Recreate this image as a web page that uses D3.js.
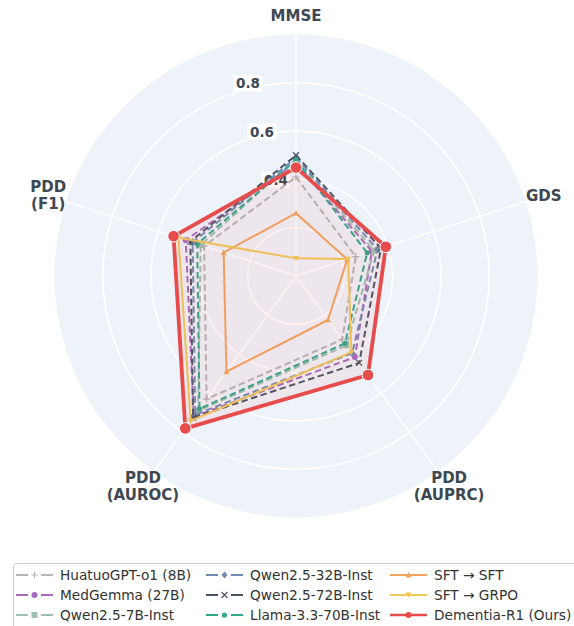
<!DOCTYPE html>
<html><head><meta charset="utf-8">
<script src="https://cdn.jsdelivr.net/npm/d3@7"></script>
<style>body{margin:0;background:#fff}svg{display:block}</style>
</head><body>
<svg id="chart" width="574" height="626"></svg>
<script>
const axesLabels = [["MMSE"], ["GDS"], ["PDD", "(AUPRC)"], ["PDD", "(AUROC)"], ["PDD", "(F1)"]];
const gridTicks = [0.2, 0.4, 0.6, 0.8];
const tickLabels = ["0.4", "0.6", "0.8"];
const seriesNames = ["HuatuoGPT-o1 (8B)", "MedGemma (27B)", "Qwen2.5-7B-Inst", "Qwen2.5-32B-Inst", "Qwen2.5-72B-Inst", "Llama-3.3-70B-Inst", "SFT \u2192 SFT", "SFT \u2192 GRPO", "Dementia-R1 (Ours)"];
const huatuo   = [0.41, 0.26, 0.325, 0.63, 0.40];
const medgemma = [0.47, 0.33, 0.415, 0.72, 0.48];
const qwen7    = [0.485, 0.34, 0.355, 0.69, 0.415];
const qwen32   = [0.49, 0.355, 0.395, 0.71, 0.45];
const qwen72   = [0.50, 0.37, 0.445, 0.725, 0.46];
const llama    = [0.48, 0.31, 0.345, 0.68, 0.43];
const sftSft   = [0.26, 0.223, 0.225, 0.49, 0.315];
const sftGrpo  = [0.073, 0.227, 0.39, 0.742, 0.512];
const dementia = [0.449, 0.391, 0.507, 0.78, 0.533];
const seriesValues = [huatuo, medgemma, qwen7, qwen32, qwen72, llama, sftSft, sftGrpo, dementia];

const styles = [
  {color:"#b5b5b5", dash:"6.5,3.5", w:2, sym:"plus", ms:3.5},
  {color:"#a66bbe", dash:"6.5,3.5", w:2, sym:"circle", ms:3},
  {color:"#9fc0b1", dash:"6.5,3.5", w:2, sym:"square", ms:3},
  {color:"#6f8db3", dash:"6.5,3.5", w:2, sym:"diamond", ms:3.5},
  {color:"#4b5563", dash:"6.5,3.5", w:2, sym:"x", ms:3},
  {color:"#2fa88c", dash:"6.5,3.5", w:2, sym:"circle", ms:2.6},
  {color:"#f2a55e", dash:null, w:2, sym:"tri", ms:3},
  {color:"#f0c95a", dash:null, w:2, sym:"tridown", ms:3},
  {color:"#e74c4c", dash:null, w:3.8, sym:"circle", ms:5.8}
];

const svg = d3.select("#chart");
const cx = 296, cy = 276, R = 241.5;
const n = axesLabels.length;
const r = d3.scaleLinear().domain([0, 1]).range([0, R]);
const ang = d3.scaleLinear().domain([0, n]).range([0, 2 * Math.PI]);
const textCol = "#3d4852";
const g = svg.append("g").attr("transform", `translate(${cx},${cy})`);

g.append("circle").attr("r", r(1)).attr("fill", "#eef3fa");
g.selectAll("circle.grid").data(gridTicks).enter().append("circle")
  .attr("class","grid").attr("r", d => r(d)).attr("fill","none").attr("stroke","#fff").attr("stroke-width",1.5);
g.selectAll("line.spoke").data(d3.range(n)).enter().append("line")
  .attr("x1",0).attr("y1",0)
  .attr("x2", i => r(1) * Math.sin(ang(i))).attr("y2", i => -r(1) * Math.cos(ang(i)))
  .attr("stroke","#fff").attr("stroke-width",1.5);

tickLabels.forEach(t => {
  const v = +t, rr = r(v);
  const x = -(0.29 * rr - 8), y = -rr + 0.5;
  const tg = g.append("g");
  const txt = tg.append("text").attr("x", x).attr("y", y).attr("text-anchor","middle")
    .attr("dominant-baseline","central").attr("font-family","DejaVu Sans").attr("font-weight","bold")
    .attr("font-size",13.5).attr("fill",textCol).text(t);
  const bb = txt.node().getBBox();
  tg.insert("rect","text").attr("x", bb.x - 2.5).attr("y", bb.y).attr("width", bb.width + 5).attr("height", bb.height).attr("fill","#fff");
});

axesLabels.forEach((lines, i) => {
  const a = ang(i), rr = R + 19;
  const x = rr * Math.sin(a), y = -rr * Math.cos(a);
  const lh = 16.5;
  const t = g.append("text").attr("text-anchor","middle").attr("font-family","DejaVu Sans")
    .attr("font-weight","bold").attr("font-size",15).attr("fill",textCol);
  lines.forEach((l, k) => {
    t.append("tspan").attr("x", x).attr("y", y + (k - (lines.length - 1) / 2) * lh).attr("dominant-baseline","central").text(l);
  });
});

function symPath(sym, s) {
  if (sym === "plus") return `M${-s},0H${s}M0,${-s}V${s}`;
  if (sym === "x") return `M${-s},${-s}L${s},${s}M${-s},${s}L${s},${-s}`;
  if (sym === "circle") return d3.symbol(d3.symbolCircle, Math.PI * s * s)();
  if (sym === "square") return d3.symbol(d3.symbolSquare, 4 * s * s)();
  if (sym === "diamond") return `M0,${-s*1.2}L${s},0L0,${s*1.2}L${-s},0Z`;
  if (sym === "tri") return `M0,${-s}L${s},${s*0.8}L${-s},${s*0.8}Z`;
  if (sym === "tridown") return `M0,${s}L${s},${-s*0.8}L${-s},${-s*0.8}Z`;
}
function drawMarker(sel, st, x, y) {
  const open = st.sym === "plus" || st.sym === "x";
  const p = sel.append("path").attr("d", symPath(st.sym, st.ms)).attr("transform", `translate(${x},${y})`);
  if (open) p.attr("fill","none").attr("stroke", st.color).attr("stroke-width",1.2);
  else p.attr("fill", st.color).attr("stroke", st.sym === "circle" && st.ms > 5 ? "#fff" : "none").attr("stroke-width", 1);
}

const radial = d3.lineRadial().angle((d, i) => ang(i)).radius(d => r(d)).curve(d3.curveLinearClosed);
const dataG = g.append("g");
seriesValues.forEach((vals, si) => {
  const st = styles[si];
  const isMain = si === seriesValues.length - 1;
  dataG.append("path").attr("d", radial(vals))
    .attr("fill", st.color).attr("fill-opacity", isMain ? 0.08 : 0.0)
    .attr("stroke", st.color).attr("stroke-width", st.w)
    .attr("stroke-dasharray", st.dash).attr("stroke-linejoin","miter");
  vals.forEach((v, i) => {
    drawMarker(dataG, st, r(v) * Math.sin(ang(i)), -r(v) * Math.cos(ang(i)));
  });
});

const lg = svg.append("g");
lg.append("rect").attr("x", 13.5).attr("y", 563.5).attr("width", 580).attr("height", 80)
  .attr("rx", 3).attr("fill","#fff").attr("stroke","#cccccc").attr("stroke-width",1);
const colX = [16, 206, 390], rowY = [575, 595, 615];
seriesNames.forEach((name, si) => {
  const st = styles[si];
  const col = Math.floor(si / 3), row = si % 3;
  const x0 = colX[col], y0 = rowY[row];
  lg.append("line").attr("x1", x0).attr("x2", x0 + 37).attr("y1", y0).attr("y2", y0)
    .attr("stroke", st.color).attr("stroke-width", st.w === 2 ? 2.2 : 2.6)
    .attr("stroke-dasharray", st.dash ? "12,13" : null);
  drawMarker(lg, Object.assign({}, st, {ms: Math.min(st.ms, 3)}), x0 + 18.5, y0);
  lg.append("text").attr("x", x0 + 44).attr("y", y0).attr("dominant-baseline","central")
    .attr("font-family","DejaVu Sans").attr("font-size",13.7).attr("fill","#333").text(name);
});
</script>
</body></html>
